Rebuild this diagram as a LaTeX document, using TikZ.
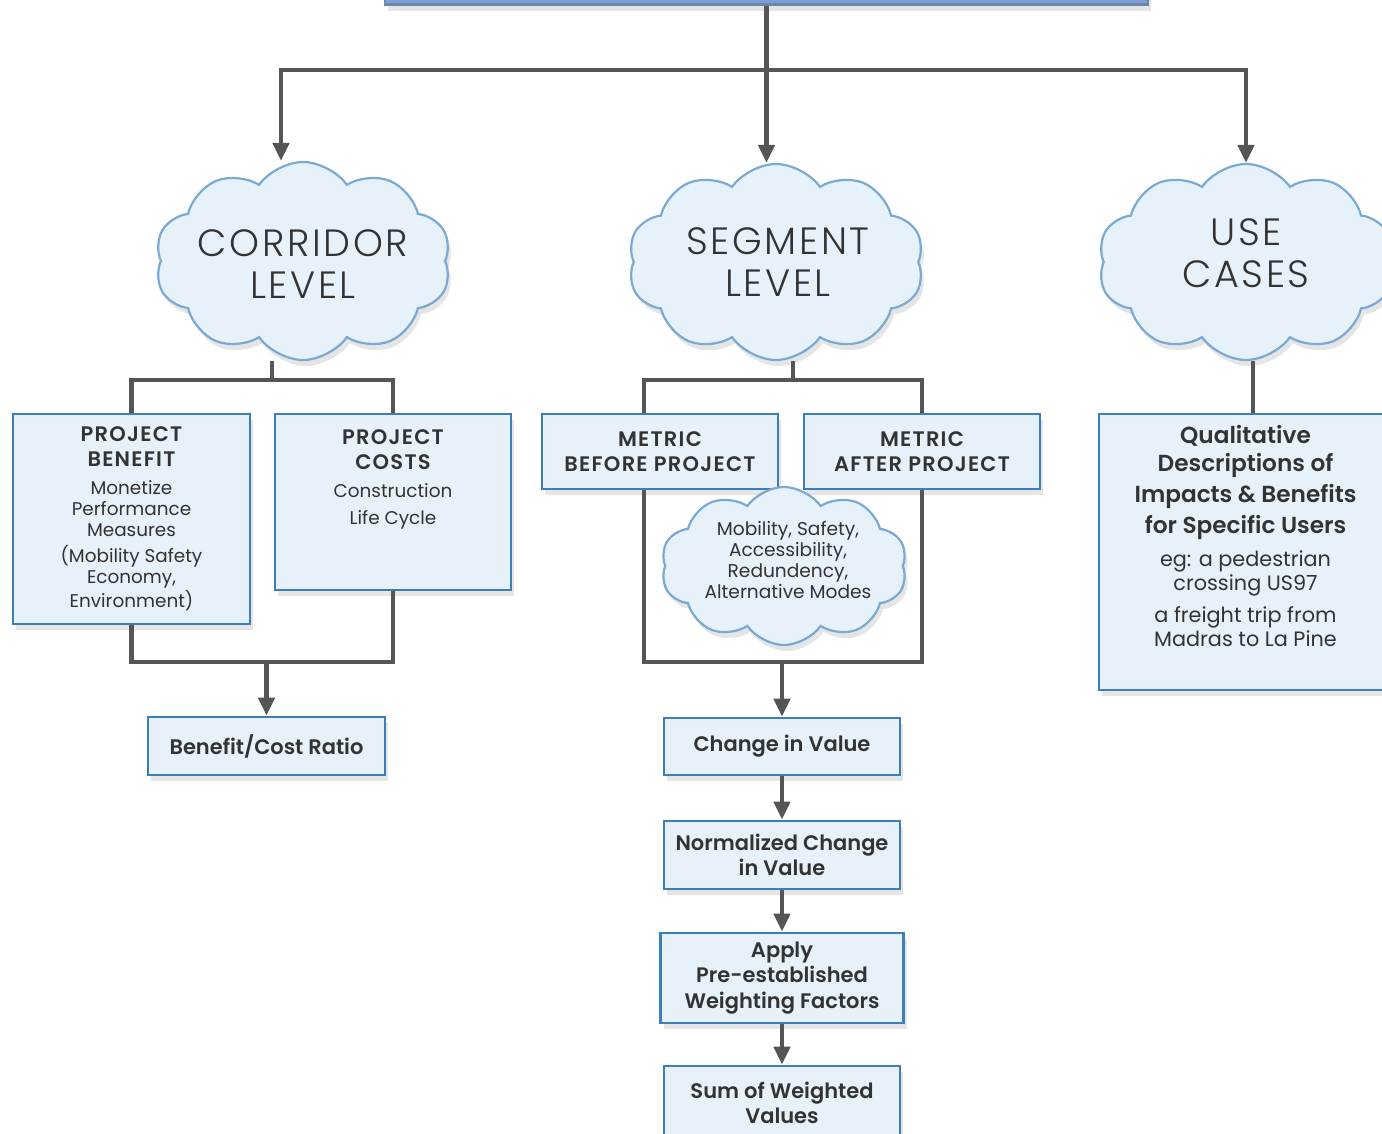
\documentclass[tikz,border=0pt]{standalone}
\usepackage{fontspec}
\setmainfont{Poppins}[BoldFont=Poppins SemiBold]
\newfontfamily\thinfont{Poppins Light}[LetterSpace=7]
\newfontfamily\capsfont{Poppins SemiBold}[LetterSpace=6]
\usepackage{xcolor}
\definecolor{edgeblue}{RGB}{61,126,184}
\definecolor{puffblue}{RGB}{122,170,211}
\definecolor{paleblue}{RGB}{231,241,249}
\definecolor{headblue}{RGB}{125,160,206}
\definecolor{wiregray}{RGB}{85,85,85}
\definecolor{ink}{RGB}{51,51,51}
\usepackage{tikz}
\usetikzlibrary{shapes.symbols}
\usetikzlibrary{positioning}
\usetikzlibrary{arrows.meta}
\usetikzlibrary{shadows}

\newcommand{\hd}{\bfseries\fontsize{10.5}{12.5}\selectfont}
\newcommand{\caps}{\capsfont\fontsize{10.5}{12.5}\selectfont}
\newcommand{\qhd}{\bfseries\fontsize{11.6}{14}\selectfont}
\newcommand{\bd}{\fontsize{9.2}{10.5}\selectfont}
\newcommand{\cloudfont}{\thinfont\fontsize{19}{21}\selectfont}

\begin{document}
\begin{tikzpicture}[x=0.5pt,y=-0.5pt,
  wire/.style={draw=wiregray,line width=2.2pt},
  flow/.style={wire,-{Triangle[width=8pt,length=9pt]}},
  card/.style={draw=edgeblue,fill=paleblue,line width=1.4pt,inner sep=0pt,text=ink,align=center,
    drop shadow={shadow xshift=1.5pt,shadow yshift=-3pt,opacity=.2}},
  puff/.style={cloud,cloud puffs=10,cloud puff arc=110,draw=puffblue,fill=paleblue,line width=1.1pt,
    inner sep=0pt,drop shadow={shadow xshift=1.5pt,shadow yshift=-3pt,opacity=.2}},
  words/.style={inner sep=0pt,text=ink,align=center}]
\useasboundingbox (0,0) rectangle (1382,1134);
\fill[white] (0,0) rectangle (1382,1134);

% top bar and the three levels
\node (head) [card,fill=headblue,draw=headblue!85!black,minimum width=381.5pt,minimum height=20pt,anchor=south] at (766.5,6) {};
\node (corr) [puff,minimum width=148pt,minimum height=99pt] at (303,261) {};
\node (corrtext) [words,font=\cloudfont] at ([yshift=-1.5pt]corr.center) {CORRIDOR\\LEVEL};
\node (seg) [puff,minimum width=148pt,minimum height=98pt] at (776,262) {};
\node (segtext) [words,font=\cloudfont] at ([xshift=1pt]seg.center) {SEGMENT\\LEVEL};
\node (use) [puff,minimum width=148pt,minimum height=98pt] at (1246,262) {};
\node (usetext) [words,font=\cloudfont] at ([yshift=4.5pt]use.center) {USE\\CASES};

% corridor boxes
\node (benefit) [card,minimum width=118.5pt,minimum height=105pt,font=\bd] at (131.5,519)
  {\caps PROJECT\\[2pt]\caps BENEFIT\\[3.5pt]Monetize\\Performance\\Measures\\[2.5pt](Mobility Safety\\Economy,\\Environment)};
\node (costs) [card,minimum width=118pt,minimum height=88pt] at (393,502) {};
\node (coststext) [words,font=\bd,below=8.5pt of costs.north]
  {\caps PROJECT\\[2pt]\caps COSTS\\[3.5pt]Construction\\[3pt]Life Cycle};
\node (ratio) [card,minimum width=118.5pt,minimum height=29pt,font=\hd] at (266.5,746) {Benefit/Cost Ratio};

% segment boxes
\node (before) [card,minimum width=118pt,minimum height=37.5pt,font=\caps] at (660,451.5) {METRIC\\BEFORE PROJECT};
\node (after) [card,minimum width=118pt,minimum height=37.5pt,font=\caps] at (922,451.5) {METRIC\\AFTER PROJECT};
\node (change) [card,minimum width=118pt,minimum height=28.5pt,font=\hd] at (782,746.5) {Change in Value};
\node (normal) [card,minimum width=118pt,minimum height=34pt,font=\hd] at (782,855) {Normalized Change\\in Value};
\node (apply) [card,minimum width=121.5pt,minimum height=45pt,font=\hd] at (782,978) {Apply\\[0.3pt]Pre-established\\[0.3pt]Weighting Factors};
\node (sum) [card,minimum width=118pt,minimum height=37pt,font=\hd] at (782,1103) {Sum of Weighted\\Values};

% use cases box
\node (qual) [card,minimum width=146.5pt,minimum height=138pt] at (1245.5,552) {};
\node (qualtext) [words,font=\fontsize{10.4}{12}\selectfont,below=6pt of qual.north]
  {\qhd Qualitative\\[2.4pt]\qhd Descriptions of\\[2.2pt]\qhd Impacts \& Benefits\\[2.2pt]\qhd for Specific Users\\[4.5pt]
   eg: a pedestrian\\crossing US97\\[4pt]a freight trip from\\Madras to La Pine};

% connectors
\coordinate (rail) at (0,70);
\coordinate (upbar) at (0,380);
\coordinate (lowbar) at (0,662);
\draw[flow] (head.south) -- (seg.north -| head.south);
\draw[flow] (head.south |- rail) -| ([xshift=-11pt]corr.north);
\draw[flow] (head.south |- rail) -| (use.north);

\draw[wire] ([xshift=-15.5pt]corr.south) -- ([xshift=-15.5pt]corr.south |- upbar);
\draw[wire] (benefit.north) |- (upbar -| costs.north) -- (costs.north);
\draw[wire] ([xshift=8.5pt]seg.south) -- ([xshift=8.5pt]seg.south |- upbar);
\draw[wire] ([xshift=-8pt]before.north) |- (upbar -| after.north) -- (after.north);
\draw[wire] ([xshift=3.5pt]use.south) -- ([xshift=3.5pt]use.south |- qual.north);

\draw[wire] (benefit.south) |- (lowbar -| costs.south) -- (costs.south);
\draw[flow] (lowbar -| ratio.north) -- (ratio.north);
\draw[wire] ([xshift=-8pt]before.south) |- (lowbar -| after.south) -- (after.south);
\draw[flow] (lowbar -| change.north) -- (change.north);
\draw[flow] (change.south) -- (normal.north);
\draw[flow] (normal.south) -- (apply.north -| normal.south);
\draw[flow] (apply.south -| sum.north) -- (sum.north);

% cloud of metrics over the segment boxes
\node (modes) [puff,minimum width=123pt,minimum height=79pt] at (784,566) {};
\node (modestext) [words,font=\fontsize{9.3}{10.5}\selectfont] at ([xshift=2pt,yshift=3pt]modes.center)
  {Mobility, Safety,\\Accessibility,\\Redundency,\\Alternative Modes};
\end{tikzpicture}
\end{document}
